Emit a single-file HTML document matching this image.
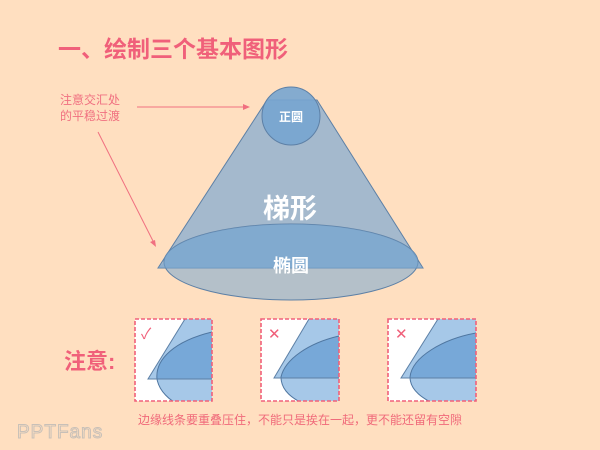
<!DOCTYPE html>
<html><head><meta charset="utf-8"><style>
html,body{margin:0;padding:0}
body{width:600px;height:450px;background:#FFDFC0;overflow:hidden;position:relative;font-family:"Liberation Sans","Noto Sans CJK SC",sans-serif}
</style></head><body>
<svg width="600" height="450" viewBox="0 0 600 450" xmlns="http://www.w3.org/2000/svg" style="position:absolute;left:0;top:0">
<defs>
<clipPath id="t1"><polygon points="50,0 77,0 77,60 13,60"/></clipPath>
<clipPath id="t2"><polygon points="48,0 78,0 78,59 13,59"/></clipPath>
<clipPath id="t3"><polygon points="50,0 88,0 88,59 13,59"/></clipPath>
<clipPath id="b1"><rect x="0" y="0" width="77" height="82"/></clipPath>
<clipPath id="b2"><rect x="0" y="0" width="78" height="82"/></clipPath>
<clipPath id="b3"><rect x="0" y="0" width="88" height="82"/></clipPath>
</defs>
<text x="58" y="57" font-size="23" font-weight="bold" fill="#F0607A" font-family="Liberation Sans,Noto Sans CJK SC,sans-serif">一、绘制三个基本图形</text>
<text x="60" y="104" font-size="12" fill="#F07080" font-family="Liberation Sans,Noto Sans CJK SC,sans-serif">注意交汇处</text>
<text x="60" y="120" font-size="12" fill="#F07080" font-family="Liberation Sans,Noto Sans CJK SC,sans-serif">的平稳过渡</text>
<line x1="137" y1="107" x2="248" y2="107" stroke="#F07080" stroke-width="1"/>
<polygon points="250,107 243,104 243,110" fill="#F07080"/>
<line x1="98" y1="132" x2="154" y2="243" stroke="#F07080" stroke-width="1"/>
<polygon points="156,247 150,242 155,240" fill="#F07080"/>
<polygon points="267,100 317,100 423,268 158,268" fill="#A4B9CD" stroke="#5D80A6" stroke-width="1"/>
<circle cx="291" cy="116" r="29" fill="#77A5D0" stroke="#5D80A6" stroke-width="1" fill-opacity="0.9"/>
<ellipse cx="291" cy="262" rx="127" ry="38" fill="#77A5D0" fill-opacity="0.55" stroke="#5D80A6" stroke-width="1"/>
<path d="M164,262 A127,38 0 0 1 418,262 L423,268 L158,268 Z" fill="#77A5D0" opacity="0.5"/>
<text x="291" y="121" font-size="12" font-weight="bold" fill="#fff" text-anchor="middle" font-family="Liberation Sans,Noto Sans CJK SC,sans-serif">正圆</text>
<text x="290" y="218" font-size="27" font-weight="bold" fill="#fff" text-anchor="middle" font-family="Liberation Sans,Noto Sans CJK SC,sans-serif">梯形</text>
<text x="291" y="272" font-size="18" font-weight="bold" fill="#fff" text-anchor="middle" font-family="Liberation Sans,Noto Sans CJK SC,sans-serif">椭圆</text>
<text x="64" y="369" font-size="22" font-weight="bold" fill="#F0607A" font-family="Liberation Sans,Noto Sans CJK SC,sans-serif">注意:</text>
<!-- box1 -->
<g transform="translate(135,319)">
<rect x="0" y="0" width="77" height="82" fill="#fff"/>
<g clip-path="url(#b1)">
<polygon points="50,0 77,0 77,60 13,60" fill="#A6C8E8"/>
<path d="M77,13 C40,22 20,40 22,60 C24,72 35,82 45,86 L77,86 Z" fill="#A6C8E8"/>
<path d="M77,13 C40,22 20,40 22,60 C24,72 35,82 45,86 L77,86 Z" fill="#77A8D8" clip-path="url(#t1)"/>
<path d="M77,13 C40,22 20,40 22,60 C24,72 35,82 45,86" fill="none" stroke="#4F76A0" stroke-width="1"/>
<polyline points="50,0 13,60 77,60" fill="none" stroke="#5D80A6" stroke-width="1"/>
</g>
<text x="6" y="20" font-size="15" fill="#F0607A">✓</text>
<rect x="0" y="0" width="77" height="82" fill="none" stroke="#F0607A" stroke-width="1.6" stroke-dasharray="4,2"/>
</g>
<!-- box2 -->
<g transform="translate(261,319)">
<rect x="0" y="0" width="78" height="82" fill="#fff"/>
<g clip-path="url(#b2)">
<polygon points="48,0 78,0 78,59 13,59" fill="#A6C8E8"/>
<path d="M78,17 C48,24 24,40 20,58 C20,72 32,80 45,86 L78,86 Z" fill="#A6C8E8"/>
<path d="M78,17 C48,24 24,40 20,58 C20,72 32,80 45,86 L78,86 Z" fill="#77A8D8" clip-path="url(#t2)"/>
<path d="M78,17 C48,24 24,40 20,58 C20,72 32,80 45,86" fill="none" stroke="#4F76A0" stroke-width="1"/>
<polyline points="48,0 13,59 78,59" fill="none" stroke="#5D80A6" stroke-width="1"/>
</g>
<text x="7" y="20" font-size="15" fill="#F0607A">✕</text>
<rect x="0" y="0" width="78" height="82" fill="none" stroke="#F0607A" stroke-width="1.6" stroke-dasharray="4,2"/>
</g>
<!-- box3 -->
<g transform="translate(388,319)">
<rect x="0" y="0" width="88" height="82" fill="#fff"/>
<g clip-path="url(#b3)">
<polygon points="50,0 88,0 88,59 13,59" fill="#A6C8E8"/>
<path d="M88,14 C55,20 24,38 22,58 C22,72 36,80 48,86 L88,86 Z" fill="#A6C8E8"/>
<path d="M88,14 C55,20 24,38 22,58 C22,72 36,80 48,86 L88,86 Z" fill="#77A8D8" clip-path="url(#t3)"/>
<path d="M88,14 C55,20 24,38 22,58 C22,72 36,80 48,86" fill="none" stroke="#4F76A0" stroke-width="1"/>
<polyline points="50,0 13,59 88,59" fill="none" stroke="#5D80A6" stroke-width="1"/>
</g>
<text x="7" y="20" font-size="15" fill="#F0607A">✕</text>
<rect x="0" y="0" width="88" height="82" fill="none" stroke="#F0607A" stroke-width="1.6" stroke-dasharray="4,2"/>
</g>
<text x="300" y="424" font-size="12" fill="#F06A7A" text-anchor="middle" font-family="Liberation Sans,Noto Sans CJK SC,sans-serif">边缘线条要重叠压住，不能只是挨在一起，更不能还留有空隙</text>
<text x="17" y="438" font-size="19" fill="none" stroke="#C8C0B8" stroke-width="1" font-family="Liberation Sans,sans-serif" letter-spacing="1">PPTFans</text>
</svg>
</body></html>
